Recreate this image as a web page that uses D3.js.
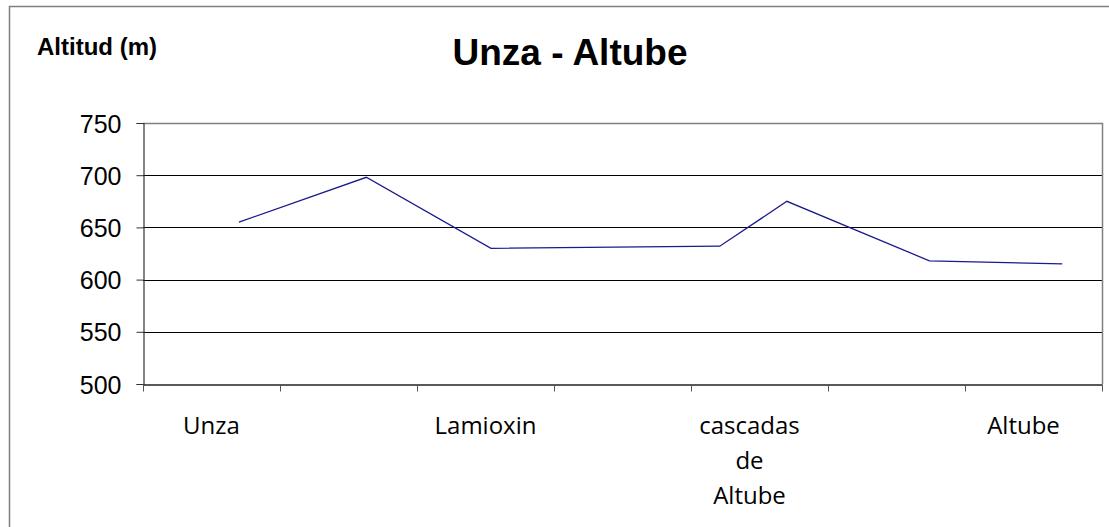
<!DOCTYPE html>
<html>
  <head>
    <meta charset="utf-8">
    <title>Unza - Altube</title>
    <style type="text/css">
     html, body {
       margin: 0;
       background: #fff;
     }
     .ylab text {
       font: 25px "Liberation Sans", Arial, sans-serif;
       fill: #000;
     }
     .xlab text {
       font: 24px "Open Sans", sans-serif;
       fill: #000;
     }
    </style>
  </head>
  <body>
    <svg width="1109" height="527"></svg>
    <script src="https://cdn.jsdelivr.net/npm/d3@7"></script>
    <script>
     // categories along the route (every other one has no label)
     var categories = ["Unza", "", "Lamioxin", "", "cascadas de Altube", "", "Altube"];
     // where each reading sits, in category units from the left edge
     var positions = [0.70, 1.63, 2.54, 4.21, 4.70, 5.74, 6.71];
     var altitudes = [655, 698, 630, 632, 675, 618, 615];
     var yTicks = [500, 550, 600, 650, 700, 750];

     var svg = d3.select("svg"),
         width = +svg.attr("width"),
         height = +svg.attr("height");

     var plot = {left: 143, right: 1102, top: 123, bottom: 384};

     var x = d3.scaleLinear()
               .domain([0, categories.length])
               .range([plot.left, plot.right]);

     var y = d3.scaleLinear()
               .domain([500, 750])
               .range([plot.bottom, plot.top]);

     // outer chart frame
     svg.append("rect")
        .attr("x", 9.5)
        .attr("y", 6.5)
        .attr("width", width + 10)
        .attr("height", height + 10)
        .attr("fill", "none")
        .attr("stroke", "#7f7f7f")
        .attr("stroke-width", 1.5);

     // titles
     svg.append("text")
        .attr("x", 570)
        .attr("y", 65)
        .attr("text-anchor", "middle")
        .style("font", "bold 37px 'Liberation Sans', Arial, sans-serif")
        .text("Unza - Altube");

     svg.append("text")
        .attr("x", 37)
        .attr("y", 55)
        .style("font", "bold 24px 'Liberation Sans', Arial, sans-serif")
        .text("Altitud (m)");

     // gridlines
     svg.append("g")
        .selectAll("line")
        .data(yTicks.filter(d => d > 500 && d < 750))
        .enter().append("line")
        .attr("x1", plot.left)
        .attr("x2", plot.right)
        .attr("y1", d => Math.round(y(d)) + 0.5)
        .attr("y2", d => Math.round(y(d)) + 0.5)
        .attr("stroke", "#000")
        .attr("stroke-width", 1.2);

     // plot area border (top and right)
     svg.append("path")
        .attr("d", "M" + plot.left + "," + (plot.top + 0.5) +
                   "H" + (plot.right + 0.5) + "V" + plot.bottom)
        .attr("fill", "none")
        .attr("stroke", "#808080")
        .attr("stroke-width", 1.5);

     // y axis
     var yAxis = svg.append("g")
                    .attr("class", "ylab")
                    .attr("transform", "translate(" + (plot.left + 0.5) + ",0)")
                    .call(d3.axisLeft(y).tickValues(yTicks).tickSize(7).tickPadding(15));
     yAxis.select(".domain").attr("stroke", "#333").attr("stroke-width", 1.2);
     yAxis.selectAll(".tick line").attr("stroke", "#333");
     yAxis.selectAll("text").attr("dy", "0.36em");

     // x axis
     var xAxis = svg.append("g")
                    .attr("transform", "translate(0," + (plot.bottom + 0.5) + ")")
                    .call(d3.axisBottom(x).tickValues(d3.range(categories.length + 1))
                            .tickSize(7).tickSizeOuter(0).tickFormat(""));
     xAxis.select(".domain").attr("stroke", "#222").attr("stroke-width", 1.5);
     xAxis.selectAll(".tick line").attr("stroke", "#555");

     // category labels, wrapped like the original
     var wraps = {"cascadas de Altube": ["cascadas", "de", "Altube"]};
     var xlab = svg.append("g")
                   .attr("class", "xlab")
                   .selectAll("text")
                   .data(categories.map((c, i) => ({c: c, i: i})).filter(d => d.c))
                   .enter().append("text")
                   .attr("text-anchor", "middle")
                   .attr("y", 434);
     xlab.selectAll("tspan")
         .data(d => (wraps[d.c] || [d.c]).map(w => ({w: w, i: d.i})))
         .enter().append("tspan")
         .attr("x", d => x(d.i + 0.5) - (d.i > 3 ? 10 : 0))
         .attr("dy", (d, j) => j ? 35 : 0)
         .text(d => d.w);

     // altitude profile
     var line = d3.line()
                  .x((d, i) => x(positions[i]))
                  .y(d => y(d));

     svg.append("path")
        .datum(altitudes)
        .attr("d", line)
        .attr("fill", "none")
        .attr("stroke", "#1a1a8c")
        .attr("stroke-width", 1.3);
    </script>
  </body>
</html>
